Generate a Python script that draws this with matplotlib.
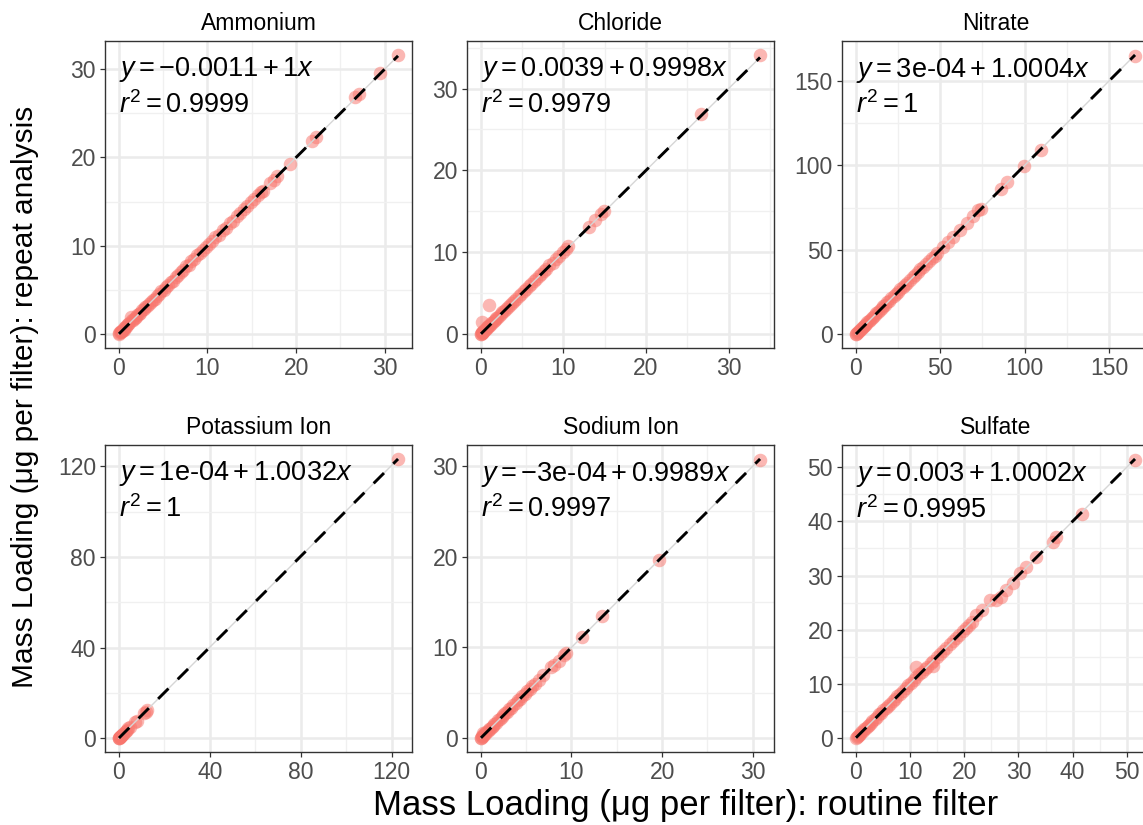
import numpy as np
import matplotlib.pyplot as plt
from matplotlib.ticker import MultipleLocator

plt.rcParams['font.family'] = ['Liberation Sans', 'DejaVu Sans']
plt.rcParams['mathtext.fontset'] = 'custom'
plt.rcParams['mathtext.rm'] = 'Liberation Sans'
plt.rcParams['mathtext.it'] = 'Liberation Sans:italic'
plt.rcParams['mathtext.bf'] = 'Liberation Sans:bold'

# panel names, fit results and tick spacing
names = ["Ammonium", "Chloride", "Nitrate", "Potassium Ion", "Sodium Ion", "Sulfate"]
intercepts = [-0.0011, 0.0039, 3e-4, 1e-4, -3e-4, 0.003]
slopes = [1.0, 0.9998, 1.0004, 1.0032, 0.9989, 1.0002]
eq_labels = [r"$y=-0.0011+1x$", r"$y=0.0039+0.9998x$", r"$y=\text{3e-04}+1.0004x$",
             r"$y=\text{1e-04}+1.0032x$", r"$y=-\text{3e-04}+0.9989x$", r"$y=0.003+1.0002x$"]
r2_labels = [r"$r^2=0.9999$", r"$r^2=0.9979$", r"$r^2=1$",
             r"$r^2=1$", r"$r^2=0.9997$", r"$r^2=0.9995$"]
steps = [10, 10, 50, 40, 10, 10]

# routine filter (x) vs repeat analysis (y)
amm_x = [0.02, 0.08, 0.15, 0.22, 0.3, 0.38, 0.45, 0.55, 0.63, 0.72, 0.85, 0.95, 1.08, 1.2, 1.35, 1.5,
         1.62, 1.78, 1.95, 2.1, 2.28, 2.45, 2.62, 2.8, 3.0, 3.2, 3.4, 3.62, 3.85, 4.05, 4.3, 4.55, 4.8,
         5.05, 5.3, 5.6, 5.85, 6.1, 6.4, 6.7, 7.0, 7.3, 7.6, 7.9, 8.2, 8.5, 8.85, 9.2, 9.5, 9.85, 10.2,
         10.55, 10.9, 11.3, 11.7, 12.1, 12.5, 12.9, 13.3, 13.7, 14.1, 14.5, 14.9, 15.3, 15.7, 16.0, 16.3,
         17.1, 17.5, 17.9, 19.3, 21.8, 22.3, 26.7, 27.1, 29.5, 31.5]
amm_y = [0.0, 0.1, 0.2, 0.2, 0.35, 0.4, 0.5, 0.5, 0.7, 0.75, 0.8, 1.0, 1.1, 1.25, 1.9, 1.55,
         1.6, 1.85, 1.9, 2.15, 2.3, 2.4, 2.7, 2.8, 3.05, 3.15, 3.45, 3.6, 3.9, 4.0, 4.35, 4.5, 4.85,
         5.0, 5.35, 5.55, 5.9, 6.05, 6.45, 6.65, 7.05, 7.25, 7.65, 7.85, 8.25, 8.45, 8.9, 9.15, 9.55, 9.8, 10.25,
         10.5, 10.95, 11.25, 11.75, 12.05, 12.55, 12.85, 13.35, 13.65, 14.15, 14.45, 14.95, 15.25, 15.75, 16.05, 16.2,
         17.15, 17.45, 17.95, 19.3, 21.9, 22.3, 26.8, 27.2, 29.6, 31.6]

chl_x = [0.02, 0.05, 0.1, 0.15, 0.2, 0.25, 0.3, 0.4, 0.5, 0.6, 0.7, 0.8, 0.9, 1.0, 1.1, 1.25, 1.4,
         1.55, 1.7, 1.85, 2.0, 2.2, 2.4, 2.6, 2.8, 3.0, 3.25, 3.5, 3.75, 4.0, 4.3, 4.6, 4.9, 5.2, 5.5,
         5.8, 6.1, 6.4, 6.7, 7.0, 7.3, 7.6, 7.9, 8.3, 8.7, 9.1, 9.5, 9.9, 10.3, 10.6, 13.05, 13.8, 14.6,
         14.9, 26.7, 33.8, 0.2, 1.0]
chl_y = [0.0, 0.05, 0.1, 0.2, 0.15, 0.3, 0.3, 0.45, 0.5, 0.6, 0.75, 0.8, 0.95, 1.0, 1.1, 1.3, 1.4,
         1.6, 1.7, 1.9, 2.0, 2.25, 2.4, 2.65, 2.8, 3.05, 3.25, 3.55, 3.75, 4.05, 4.3, 4.65, 4.9, 5.25, 5.5,
         5.85, 6.1, 6.45, 6.7, 7.05, 7.3, 7.65, 7.9, 8.4, 8.7, 9.2, 9.5, 10.0, 10.4, 10.7, 13.1, 13.9, 14.7,
         15.0, 26.9, 34.1, 1.5, 3.6]

nit_x = [0.1, 0.4, 0.8, 1.2, 1.7, 2.2, 2.8, 3.4, 4.0, 4.7, 5.4, 6.1, 6.9, 7.7, 8.5, 9.4, 10.3, 11.2,
         12.2, 13.2, 14.2, 15.3, 16.4, 17.5, 18.7, 19.9, 21.1, 22.4, 23.7, 25.0, 26.4, 27.8, 29.2, 30.6,
         32.1, 33.6, 35.1, 36.7, 38.3, 39.9, 41.5, 43.2, 44.9, 46.6, 48.0, 51.9, 54.8, 57.5, 61.7, 65.7,
         69.6, 72.6, 74.0, 85.8, 89.7, 99.6, 109.5, 165.3]
nit_y = [0.1, 0.4, 0.9, 1.2, 1.7, 2.3, 2.8, 3.4, 4.1, 4.7, 5.5, 6.1, 7.0, 7.7, 8.6, 9.4, 10.4, 11.2,
         12.3, 13.2, 14.3, 15.3, 16.5, 17.5, 18.8, 19.9, 21.2, 22.4, 23.8, 25.0, 26.5, 27.8, 29.3, 30.6,
         32.2, 33.6, 35.2, 36.7, 38.4, 39.9, 41.6, 43.2, 45.0, 46.6, 48.1, 51.8, 54.7, 57.6, 61.6, 66.0,
         69.9, 73.4, 74.4, 85.8, 90.2, 99.6, 108.9, 165.0]

pot_x = [0.05, 0.1, 0.2, 0.3, 0.5, 0.7, 0.9, 1.1, 1.4, 1.7, 2.0, 2.5, 3.0, 3.6, 4.2, 4.8, 7.2, 7.8,
         11.2, 11.8, 12.2, 122.8]
pot_y = [0.05, 0.1, 0.2, 0.3, 0.5, 0.7, 0.9, 1.1, 1.4, 1.7, 2.0, 2.5, 3.0, 3.7, 4.7, 4.8, 7.3, 7.6,
         11.1, 11.7, 12.3, 123.2]

sod_x = [0.02, 0.05, 0.1, 0.15, 0.2, 0.3, 0.4, 0.5, 0.6, 0.75, 0.9, 1.05, 1.2, 1.35, 1.5, 1.7, 1.9,
         2.1, 2.3, 2.5, 2.7, 2.9, 3.1, 3.35, 3.6, 3.85, 4.1, 4.35, 4.6, 4.85, 5.1, 5.4, 5.7, 6.0, 6.4,
         6.9, 7.7, 8.1, 8.6, 9.2, 9.4, 11.2, 13.4, 19.7, 30.8]
sod_y = [0.0, 0.05, 0.1, 0.2, 0.2, 0.6, 0.45, 0.5, 0.65, 0.75, 0.95, 1.05, 1.25, 1.35, 1.55, 1.7, 1.95,
         2.1, 2.35, 2.5, 2.75, 2.9, 3.15, 3.35, 3.65, 3.85, 4.15, 4.35, 4.65, 4.85, 5.15, 5.4, 5.75, 6.0, 6.45,
         6.9, 7.8, 8.0, 8.5, 9.2, 9.4, 11.1, 13.4, 19.6, 30.7]

sul_x = [0.05, 0.2, 0.4, 0.6, 0.8, 1.0, 1.3, 1.6, 1.9, 2.2, 2.5, 2.8, 3.1, 3.5, 3.9, 4.3, 4.7, 5.1,
         5.5, 5.9, 6.3, 6.8, 7.2, 7.7, 8.2, 8.7, 9.2, 9.7, 10.2, 10.7, 11.2, 11.7, 12.2, 12.7, 13.2, 13.8,
         14.3, 14.9, 15.5, 16.1, 16.7, 17.3, 17.9, 18.5, 19.1, 19.7, 20.3, 20.9, 21.5, 22.2, 23.2, 24.7,
         25.9, 26.8, 27.8, 29.0, 30.2, 31.4, 33.3, 36.3, 37.0, 41.7, 51.5, 11.2, 14.3]
sul_y = [0.0, 0.25, 0.4, 0.65, 0.8, 1.05, 1.3, 1.65, 1.9, 2.25, 2.5, 2.85, 3.1, 3.55, 3.9, 4.35, 4.7, 5.15,
         5.5, 5.95, 6.3, 6.85, 7.2, 7.75, 8.2, 8.75, 9.2, 9.75, 10.2, 10.75, 11.2, 11.75, 12.2, 12.75, 13.2, 13.85,
         14.3, 14.95, 15.5, 16.15, 16.7, 17.35, 17.9, 18.55, 19.1, 19.75, 20.3, 20.95, 21.5, 22.8, 23.7, 25.5,
         25.5, 26.1, 27.4, 28.7, 30.4, 31.6, 33.4, 36.2, 37.1, 41.4, 51.3, 13.1, 13.3]

xs = [amm_x, chl_x, nit_x, pot_x, sod_x, sul_x]
ys = [amm_y, chl_y, nit_y, pot_y, sod_y, sul_y]

W, H = 1143, 825
fig = plt.figure(figsize=(W / 100, H / 100), dpi=100)

lefts = [105, 467, 842]
tops = [41, 445]
pw, ph = 307, 307

for i in range(6):
    r, c = divmod(i, 3)
    ax = fig.add_axes([lefts[c] / W, 1 - (tops[r] + ph) / H, pw / W, ph / H])
    x = np.array(xs[i])
    y = np.array(ys[i])

    xl = np.array([x.min(), x.max()])
    yl = intercepts[i] + slopes[i] * xl
    ylo = min(y.min(), yl.min())
    yhi = max(y.max(), yl.max())
    dx = x.max() - x.min()
    dy = yhi - ylo
    ax.set_xlim(x.min() - 0.05 * dx, x.max() + 0.05 * dx)
    ax.set_ylim(ylo - 0.05 * dy, yhi + 0.05 * dy)

    ax.scatter(x, y, s=95, color='#F8766D', alpha=0.52, linewidths=0, zorder=2)
    # narrow se band shows as a thin grey line, then the dashed fit
    ax.plot(xl, yl, color='#D6D6D6', lw=1.0, zorder=3)
    ax.plot(xl, yl, color='black', lw=2.1, linestyle=(0, (5, 4.5)), zorder=4)

    ax.annotate(eq_labels[i], xy=(x.min(), y.max()), ha='left', va='top', fontsize=19.5, zorder=5)
    ax.annotate(r2_labels[i], xy=(x.min(), y.max()), xytext=(0, -26), textcoords='offset points',
                ha='left', va='top', fontsize=19.5, zorder=5)

    ax.xaxis.set_major_locator(MultipleLocator(steps[i]))
    ax.yaxis.set_major_locator(MultipleLocator(steps[i]))
    ax.xaxis.set_minor_locator(MultipleLocator(steps[i] / 2))
    ax.yaxis.set_minor_locator(MultipleLocator(steps[i] / 2))
    ax.grid(which='major', color='#EBEBEB', lw=1.8)
    ax.grid(which='minor', color='#F0F0F0', lw=1.0)
    ax.set_axisbelow(True)
    ax.tick_params(which='major', direction='out', length=3.5, width=0.9, color='#333333',
                   labelcolor='#4D4D4D', labelsize=16.5, pad=3)
    ax.tick_params(which='minor', length=0)
    for sp in ax.spines.values():
        sp.set_color('#333333')
        sp.set_linewidth(1.0)
    ax.set_title(names[i], fontsize=16.5, pad=8)

fig.text(686 / W, 1 - 805 / H, u"Mass Loading (\u03bcg per filter): routine filter",
         ha='center', va='center', fontsize=25)
fig.text(25 / W, 1 - 397 / H, u"Mass Loading (\u03bcg per filter): repeat analysis",
         ha='center', va='center', rotation=90, fontsize=21.5)

fig.savefig('out.png', dpi=100)
